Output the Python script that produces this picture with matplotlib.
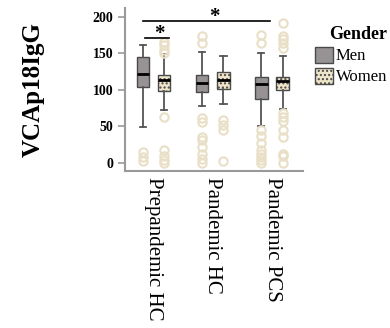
import matplotlib.pyplot as plt
import numpy as np

# groups and box stats
groups = ['Prepandemic HC', 'Pandemic HC', 'Pandemic PCS']

men_med = [122, 110, 108]
men_q1 = [104, 97, 87]
men_q3 = [145, 120, 117]
men_lo = [49, 78, 50]
men_hi = [161, 152, 150]
men_fliers = [
    [15, 8, 3],
    [173, 164, 61, 56, 36, 31, 22, 12, 5, 0],
    [175, 164, 45, 37, 27, 18, 12, 8, 4, 0],
]

women_med = [113, 113, 112]
women_q1 = [99, 101, 100]
women_q3 = [120, 124, 117]
women_lo = [73, 81, 74]
women_hi = [149, 146, 146]
women_fliers = [
    [166, 162, 155, 151, 63, 18, 9, 4, 0],
    [59, 52, 45, 2],
    [191, 173, 169, 164, 157, 68, 63, 57, 45, 35, 12, 9, 0],
]

plt.rcParams['font.family'] = ['Liberation Serif', 'DejaVu Serif']

fig = plt.figure(figsize=(3.9, 3.28), dpi=100)
ax = fig.add_axes([0.3205, 0.4787, 0.456, 0.497])

def stats(med, q1, q3, lo, hi, fl):
    out = []
    for i in range(len(med)):
        out.append(dict(med=med[i], q1=q1[i], q3=q3[i], whislo=lo[i], whishi=hi[i], fliers=fl[i]))
    return out

x = np.arange(len(groups))
off = 0.18
w = 0.21
flier = dict(marker='o', markerfacecolor='none', markeredgecolor='#e8dfc6', markersize=6, markeredgewidth=1.5)

b1 = ax.bxp(stats(men_med, men_q1, men_q3, men_lo, men_hi, men_fliers), positions=x - off, widths=w,
            patch_artist=True, flierprops=flier,
            boxprops=dict(facecolor='#979394', edgecolor='#4a4a4a', linewidth=1),
            medianprops=dict(color='black', linewidth=2),
            whiskerprops=dict(color='#555555', linewidth=1.3),
            capprops=dict(color='#555555', linewidth=1.3), manage_ticks=False)
b2 = ax.bxp(stats(women_med, women_q1, women_q3, women_lo, women_hi, women_fliers), positions=x + off, widths=w,
            patch_artist=True, flierprops=flier,
            boxprops=dict(facecolor='#efe6c9', edgecolor='#4a4a4a', linewidth=1, hatch='....'),
            medianprops=dict(color='black', linewidth=2),
            whiskerprops=dict(color='#555555', linewidth=1.3),
            capprops=dict(color='#555555', linewidth=1.3), manage_ticks=False)

# significance bars
ax.plot([-0.14, 0.27], [171, 171], color='black', lw=1.2, clip_on=False)
ax.text(0.1, 177, '*', ha='center', va='center', fontsize=15, fontweight='bold')
ax.plot([-0.18, 1.97], [194, 194], color='black', lw=1.2, clip_on=False)
ax.text(1.02, 199, '*', ha='center', va='center', fontsize=15, fontweight='bold')

ax.set_xlim(-0.48, 2.52)
ax.set_ylim(-11, 212)
ax.set_yticks([0, 50, 100, 150, 200])
ax.set_xticks(x)
ax.set_xticklabels(groups, rotation=-90, fontsize=15)
ax.tick_params(axis='x', length=0, pad=4)
ax.tick_params(axis='y', length=5, color='#999999', width=1.2, labelsize=10)
for t in ax.get_yticklabels():
    t.set_fontweight('bold')
for s in ['top', 'right']:
    ax.spines[s].set_visible(False)
for s in ['left', 'bottom']:
    ax.spines[s].set_color('#999999')
    ax.spines[s].set_linewidth(1.5)

ax.set_ylabel('VCAp18IgG', fontsize=18, fontweight='bold', labelpad=34)

leg = ax.legend([b1['boxes'][0], b2['boxes'][0]], ['Men', 'Women'], title='Gender',
                loc='upper left', bbox_to_anchor=(0.79, 0.94), bbox_transform=fig.transFigure,
                frameon=False, fontsize=12, handlelength=1.1, handleheight=1.1,
                handletextpad=0.15, labelspacing=0.2, borderaxespad=0)
leg.get_title().set_fontweight('bold')
leg.get_title().set_fontsize(13)
leg._legend_box.align = 'right'

fig.savefig('out.png', dpi=100)
